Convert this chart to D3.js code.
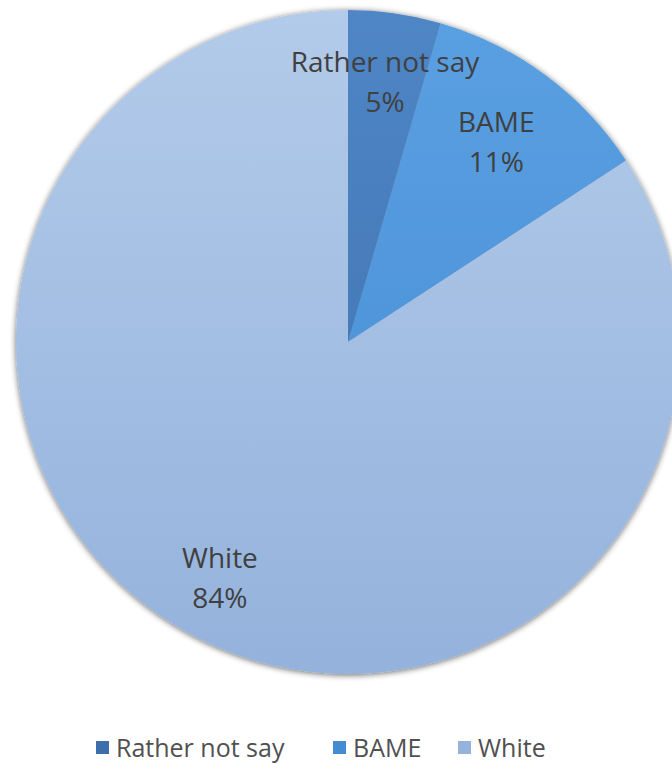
<!DOCTYPE html>
<html><head><meta charset="utf-8">
<script src="https://cdn.jsdelivr.net/npm/d3@7"></script>
<style>html,body{margin:0;padding:0;background:#fff;}svg{display:block;}</style>
</head><body>
<svg id="chart" width="672" height="763"></svg>
<script>
const categories = ["Rather not say", "BAME", "White"];
const values = [4.5, 11.3, 84.2];
const pctLabels = ["5%", "11%", "84%"];
const colorsTop = ["#4f86c6", "#5aa0e2", "#b3cbea"];
const colorsBottom = ["#3c6eab", "#448bd2", "#94b2dc"];

const svg = d3.select("#chart");
const cx = 348, cy = 342, r = 332;
const defs = svg.append("defs");
categories.forEach((c, i) => {
  const g = defs.append("linearGradient").attr("id", "g" + i)
    .attr("gradientUnits", "userSpaceOnUse")
    .attr("x1", 0).attr("y1", -r).attr("x2", 0).attr("y2", r);
  g.append("stop").attr("offset", 0).attr("stop-color", colorsTop[i]);
  g.append("stop").attr("offset", 1).attr("stop-color", colorsBottom[i]);
});
const f = defs.append("filter").attr("id", "shadow").attr("x", -0.1).attr("y", -0.1).attr("width", 1.2).attr("height", 1.2);
f.append("feGaussianBlur").attr("in", "SourceAlpha").attr("stdDeviation", 3).attr("result", "b");
f.append("feOffset").attr("in", "b").attr("dx", 0).attr("dy", 1).attr("result", "o");
f.append("feComponentTransfer").attr("in", "o").attr("result", "o2")
  .append("feFuncA").attr("type", "linear").attr("slope", 0.6);
const m = f.append("feMerge");
m.append("feMergeNode").attr("in", "o2");
m.append("feMergeNode").attr("in", "SourceGraphic");

const pie = d3.pie().sort(null).value(d => d)(values);
const arc = d3.arc().innerRadius(0).outerRadius(r);
const g = svg.append("g").attr("transform", `translate(${cx},${cy})`);
g.append("g").attr("filter", "url(#shadow)")
  .selectAll("path").data(pie).join("path")
  .attr("d", arc).attr("fill", (d, i) => `url(#g${i})`);

// labels
const labelR = [0.79, 0.75, 0.81];
const lab = g.append("g").selectAll("g").data(pie).join("g")
  .attr("transform", (d, i) => {
    const a = d3.arc().innerRadius(r * labelR[i]).outerRadius(r * labelR[i]);
    const p = a.centroid(d);
    return `translate(${p[0]},${p[1]})`;
  });
lab.append("text").attr("text-anchor", "middle").attr("y", -10)
  .attr("font-family", "Open Sans").attr("font-size", 28).attr("fill", "#404040")
  .text((d, i) => categories[i]);
lab.append("text").attr("text-anchor", "middle").attr("y", 30)
  .attr("font-family", "Open Sans").attr("font-size", 28).attr("fill", "#404040")
  .text((d, i) => pctLabels[i]);

// legend
const legX = [96, 333, 458];
const leg = svg.append("g").selectAll("g").data(categories).join("g")
  .attr("transform", (d, i) => `translate(${legX[i]},741)`);
leg.append("rect").attr("width", 13).attr("height", 13).attr("fill", (d, i) => colorsBottom[i]);
leg.append("text").attr("x", 20).attr("y", 16)
  .attr("font-family", "Open Sans").attr("font-size", 25).attr("fill", "#505050")
  .text(d => d);
</script>
</body></html>
